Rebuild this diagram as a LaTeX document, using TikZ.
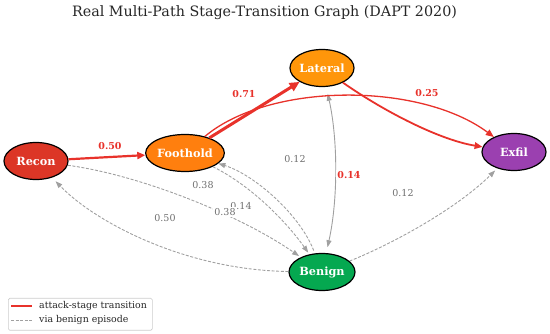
\documentclass[tikz,border=0pt]{standalone}
\usepackage{fontspec}
\setmainfont{DejaVu Serif}
\usetikzlibrary{arrows.meta,shapes.geometric}
\definecolor{atkred}{HTML}{E8322B}
\definecolor{bengray}{HTML}{A0A0A0}
\definecolor{lblgray}{HTML}{6E6E6E}
\definecolor{cRecon}{HTML}{DC3626}
\definecolor{cFoot}{HTML}{FF7F0E}
\definecolor{cLat}{HTML}{FF960A}
\definecolor{cExfil}{HTML}{9B40B0}
\definecolor{cBenign}{HTML}{05A850}
\begin{document}
\begin{tikzpicture}[x=1pt,y=-1pt,
  stage/.style={ellipse, draw=black, line width=1.2pt, minimum width=64pt, minimum height=37pt,
    inner sep=0pt, text=white, font=\fontsize{11.3}{13}\selectfont\bfseries},
  atk/.style={draw=atkred, line width=1.6pt, -{Triangle[length=8pt,width=6.5pt]}},
  ben/.style={draw=bengray, line width=0.9pt, dash pattern=on 3pt off 1.6pt,
    -{Triangle[length=7pt,width=5pt]}},
  rlbl/.style={text=atkred, fill=white, inner sep=1pt, font=\fontsize{9.5}{11}\selectfont\bfseries},
  glbl/.style={text=lblgray, fill=white, inner sep=1pt, font=\fontsize{9.5}{11}\selectfont},
  legtxt/.style={anchor=west, inner sep=0pt, text=black!85, font=\fontsize{9.4}{11}\selectfont}
]
\useasboundingbox (0,0) rectangle (550,334);

\node[font=\fontsize{14.3}{16}\selectfont, text=black!85] (title) at (264.5,13) {Real Multi-Path Stage-Transition Graph (DAPT 2020)};

% nodes
\node[stage, fill=cRecon] (recon) at (36,161) {Recon};
\node[stage, fill=cFoot] (foot) at (185,153) {Foothold};
\node[stage, fill=cLat] (lat) at (322,68) {Lateral};
\node[stage, fill=cExfil] (exfil) at (514,152) {Exfil};
\node[stage, fill=cBenign, minimum width=66pt] (benign) at (322,272) {Benign};

% benign-episode edges
\draw[ben, shorten >=2pt] (recon) .. controls (140,175) and (240,215) .. (benign);
\draw[ben, shorten >=2pt] (foot) .. controls (250,185) and (285,220) .. (benign);
\draw[ben, shorten <=3pt] (benign) .. controls (300,215) and (255,175) .. (foot);
\draw[ben, shorten >=5pt] (benign) .. controls (185,270) and (95,222) .. (recon);
\draw[ben, shorten >=3pt] (benign) .. controls (390,245) and (455,210) .. (exfil);
\draw[draw=bengray, line width=0.9pt, {Triangle[length=7pt,width=5pt]}-{Triangle[length=7pt,width=5pt]},
  shorten <=7pt, shorten >=6pt] (lat) .. controls (338,140) and (338,200) .. (benign);

% attack edges
\draw[atk, line width=2.2pt, -{Triangle[length=8pt,width=7pt]}] (recon) -- (foot);
\draw[atk, line width=3pt, -{Triangle[length=10pt,width=9pt]}] (foot) -- (lat);
\draw[atk, line width=1.3pt] (foot) .. controls (270,82) and (420,82) .. (exfil);
\draw[atk, line width=1.8pt] (lat) .. controls (385,112) and (440,140) .. (exfil);

% labels
\node[rlbl] (l1) at (110,146) {0.50};
\node[rlbl] (l2) at (244,94) {0.71};
\node[rlbl] (l3) at (427,93) {0.25};
\node[rlbl] (l4) at (349,175) {0.14};
\node[glbl] (l5) at (241,206) {0.14};
\node[glbl] (l6) at (203,185) {0.38};
\node[glbl] (l7) at (225,212) {0.38};
\node[glbl] (l8) at (165,218) {0.50};
\node[glbl] (l9) at (295,159) {0.12};
\node[glbl] (l10) at (403,193) {0.12};

% legend
\node[draw=black!20, fill=white, rounded corners=1.5pt, line width=0.6pt, minimum width=144pt,
  minimum height=32pt, inner sep=0pt, anchor=north west] (legend) at (8,298) {};
\coordinate (la1) at (11,306);
\coordinate (la2) at (32,306);
\coordinate (lb1) at (11,320);
\coordinate (lb2) at (32,320);
\draw[draw=atkred, line width=1.8pt] (la1) -- (la2);
\draw[draw=bengray, line width=0.9pt, dash pattern=on 3pt off 1.6pt] (lb1) -- (lb2);
\node[legtxt] (lt1) at (39,306) {attack-stage transition};
\node[legtxt] (lt2) at (39,320) {via benign episode};
\end{tikzpicture}
\end{document}
